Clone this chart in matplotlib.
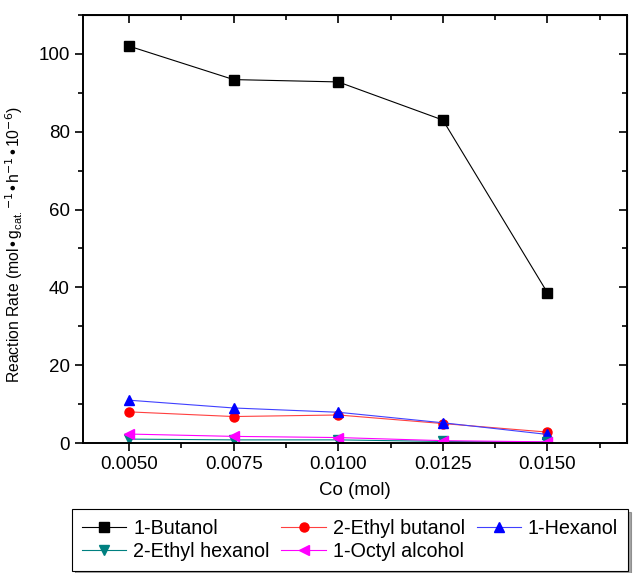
import matplotlib
matplotlib.use('Agg')
import matplotlib.pyplot as plt
from matplotlib.ticker import MultipleLocator

plt.rcParams['font.family'] = ['Liberation Sans', 'DejaVu Sans']

# cobalt loading and reaction rates per alcohol
co = [0.0050, 0.0075, 0.0100, 0.0125, 0.0150]
butanol = [102.0, 93.4, 92.8, 83.0, 38.6]
ethyl_butanol = [8.0, 6.8, 7.2, 5.0, 2.8]
hexanol = [11.0, 9.0, 7.9, 5.2, 2.2]
ethyl_hexanol = [1.0, 0.8, 0.8, 0.4, 0.2]
octyl = [2.3, 1.7, 1.4, 0.6, 0.3]
labels = ['1-Butanol', '2-Ethyl butanol', '1-Hexanol', '2-Ethyl hexanol', '1-Octyl alcohol']

fig = plt.figure(figsize=(6.44, 5.73), dpi=100)
ax = fig.add_axes([83/644, 1 - 443/573, 544/644, 428/573])

series = [
    (butanol, 'black', 's', 'black'),
    (ethyl_butanol, '#ff4040', 'o', 'red'),
    (hexanol, '#4040ff', '^', 'blue'),
    (ethyl_hexanol, '#008080', 'v', '#008080'),
    (octyl, '#ff00ff', '<', '#ff00ff'),
]
lines = []
for (vals, lc, mk, mc), lab in zip(series, labels):
    ln, = ax.plot(co, vals, color=lc, lw=0.8, marker=mk, ms=6.5, mfc=mc, mec=mc, label=lab)
    lines.append(ln)

ax.set_xlim(0.0039, 0.0169)
ax.set_ylim(0, 110)
ax.set_xticks(co)
ax.set_xticklabels(['%.4f' % v for v in co])
ax.xaxis.set_minor_locator(MultipleLocator(0.00125))
ax.yaxis.set_major_locator(MultipleLocator(20))
ax.yaxis.set_minor_locator(MultipleLocator(10))
ax.tick_params(which='both', direction='out', labelsize=13.5, width=1.2)
ax.tick_params(which='major', length=6)
ax.tick_params(which='minor', length=3.5)

# inward ticks on the top and right frame
ax_top = ax.secondary_xaxis('top')
ax_top.set_xticks(co)
ax_top.set_xticks([0.00625, 0.00875, 0.01125, 0.01375, 0.01625], minor=True)
ax_top.tick_params(which='both', direction='in', labeltop=False, width=1.2)
ax_top.tick_params(which='major', length=6)
ax_top.tick_params(which='minor', length=3.5)
ax_right = ax.secondary_yaxis('right')
ax_right.yaxis.set_major_locator(MultipleLocator(20))
ax_right.yaxis.set_minor_locator(MultipleLocator(10))
ax_right.tick_params(which='both', direction='in', labelright=False, width=1.2)
ax_right.tick_params(which='major', length=6)
ax_right.tick_params(which='minor', length=3.5)
for s in ax.spines.values():
    s.set_linewidth(1.4)

ax.set_xlabel('Co (mol)', fontsize=13.5, labelpad=6)
ax.set_ylabel(r'Reaction Rate (mol$\bullet$g$_{\mathregular{cat.}}$$^{-1}$$\bullet$h$^{-1}$$\bullet$10$^{-6}$)',
              fontsize=11.3)
ax.yaxis.set_label_coords(-58/544, 0.463)

# legend filled column by column, so order gives rows B/EB/H and EH/O
order = [0, 3, 1, 4, 2]
leg = fig.legend([lines[i] for i in order], [labels[i] for i in order],
                 loc='lower left', bbox_to_anchor=(72/644, 2/573),
                 ncol=3, fontsize=14.2, frameon=True, fancybox=False, shadow=True,
                 handlelength=2.25, borderpad=0.5, labelspacing=0.2, columnspacing=0.6,
                 handletextpad=0.35, borderaxespad=0)
leg.get_frame().set_edgecolor('black')
leg.get_frame().set_linewidth(0.8)

fig.savefig('out.png', dpi=100)
